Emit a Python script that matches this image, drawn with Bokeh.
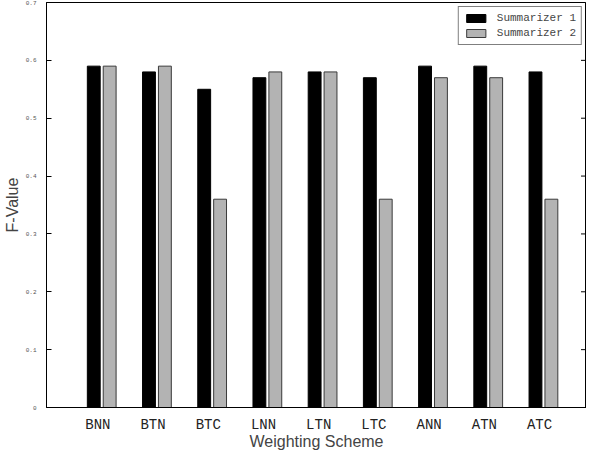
from bokeh.plotting import figure
from bokeh.models import FixedTicker, CustomJSTickFormatter, Range1d, ColumnDataSource
from bokeh.embed import file_html
from bokeh.resources import INLINE

schemes = ["BNN", "BTN", "BTC", "LNN", "LTN", "LTC", "ANN", "ATN", "ATC"]
summarizer1 = [0.59, 0.58, 0.55, 0.57, 0.58, 0.57, 0.59, 0.59, 0.58]
summarizer2 = [0.59, 0.59, 0.36, 0.58, 0.58, 0.36, 0.57, 0.57, 0.36]
y_ticks = [0, 0.1, 0.2, 0.3, 0.4, 0.5, 0.6, 0.7]
x_end = 9.78

pos = list(range(1, len(schemes) + 1))
src = ColumnDataSource(dict(
    x1=[q - 0.144 for q in pos],
    x2=[q + 0.144 for q in pos],
    s1=summarizer1,
    s2=summarizer2,
))

p = figure(width=586, height=452, output_backend="svg", toolbar_location=None,
           x_range=Range1d(0, x_end), y_range=Range1d(0, 0.7),
           min_border=0, min_border_left=41, min_border_top=2,
           min_border_right=0, min_border_bottom=0)

p.vbar(x="x1", top="s1", width=0.233, source=src, fill_color="black",
       line_color="black", legend_label="Summarizer 1")
p.vbar(x="x2", top="s2", width=0.233, source=src, fill_color="#b3b3b3",
       line_color="#3a3a3a", legend_label="Summarizer 2")

# inward ticks on the right edge
p.scatter(x=[x_end] * len(y_ticks), y=y_ticks, marker="dash", size=11,
          line_color="black", line_width=1)

p.grid.visible = False
p.outline_line_color = "black"
p.outline_line_width = 1
p.background_fill_color = "white"

# x axis
xa = p.xaxis[0]
xa.ticker = FixedTicker(ticks=[q - 0.07 for q in pos])
xa.formatter = CustomJSTickFormatter(args=dict(names=schemes),
                                     code="return names[Math.round(tick) - 1];")
xa.major_tick_line_color = None
xa.minor_tick_line_color = None
xa.axis_line_color = "black"
xa.major_label_text_font = "Liberation Mono"
xa.major_label_text_font_size = "14px"
xa.major_label_text_color = "#222222"
xa.major_label_standoff = 3
xa.axis_label = "Weighting Scheme"
xa.axis_label_text_font = "Liberation Sans"
xa.axis_label_text_font_size = "16px"
xa.axis_label_text_font_style = "normal"
xa.axis_label_standoff = -3

# y axis
ya = p.yaxis[0]
ya.ticker = FixedTicker(ticks=y_ticks)
ya.major_tick_in = 5
ya.major_tick_out = 0
ya.minor_tick_line_color = None
ya.axis_line_color = "black"
ya.major_label_text_font = "Liberation Mono"
ya.major_label_text_font_size = "6px"
ya.major_label_text_color = "#555555"
ya.major_label_standoff = 10
ya.axis_label = "F-Value"
ya.axis_label_text_font = "Liberation Sans"
ya.axis_label_text_font_size = "16px"
ya.axis_label_text_font_style = "normal"
ya.axis_label_standoff = 2

lg = p.legend[0]
lg.location = "top_right"
lg.margin = 4
lg.padding = 5
lg.spacing = 3
lg.border_line_color = "black"
lg.border_line_width = 1
lg.background_fill_alpha = 1
lg.label_text_font = "Liberation Mono"
lg.label_text_font_size = "11px"
lg.label_standoff = 9
lg.glyph_width = 24
lg.glyph_height = 10
lg.label_height = 10
lg.items = lg.items[:2]

open("out.html", "w").write(file_html(p, INLINE))
